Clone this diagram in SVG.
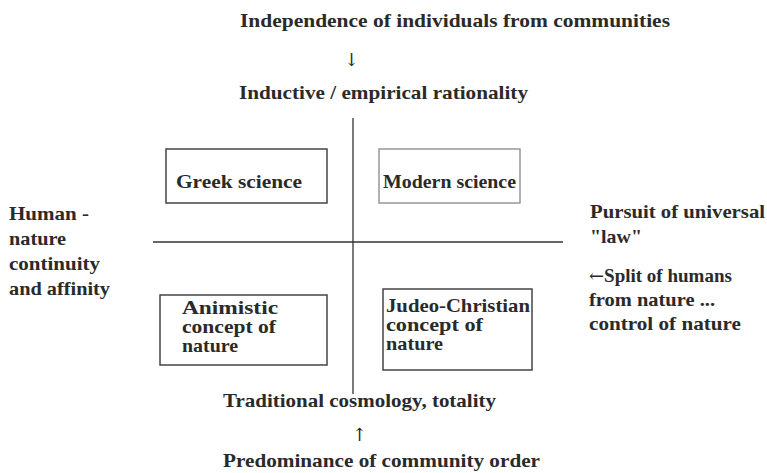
<svg xmlns="http://www.w3.org/2000/svg" width="767" height="473" viewBox="0 0 767 473">
<style>
text{font-family:"Liberation Serif","DejaVu Serif",serif;font-weight:bold;font-size:19px;fill:#2a2a2a}
.arr{font-family:"DejaVu Serif",serif;font-weight:normal;font-size:18px}
.box{fill:#fff;stroke:#444;stroke-width:1.5}
.lbox{fill:#fff;stroke:#888;stroke-width:1.3}
.axis{stroke:#333;stroke-width:1.3;fill:none}
</style>
<rect width="767" height="473" fill="#fff"/>
<g id="connectors">
<line class="axis" x1="353" y1="118" x2="353" y2="394"/>
<line class="axis" x1="153" y1="242" x2="563" y2="242"/>
</g>
<g id="top-label">
<text x="240" y="27" textLength="430" lengthAdjust="spacingAndGlyphs">Independence of individuals from communities</text>
<text class="arr" x="344" y="66">↓</text>
<text x="239" y="99" textLength="289" lengthAdjust="spacingAndGlyphs">Inductive / empirical rationality</text>
</g>
<g id="greek">
<rect class="box" x="166" y="149" width="161" height="54"/>
<text x="176" y="188" textLength="126" lengthAdjust="spacingAndGlyphs">Greek science</text>
</g>
<g id="modern">
<rect class="lbox" x="379" y="149" width="141" height="54"/>
<text x="383" y="188" textLength="133" lengthAdjust="spacingAndGlyphs">Modern science</text>
</g>
<g id="animistic">
<rect class="box" x="160" y="295" width="167" height="70"/>
<text x="182" y="314" textLength="96" lengthAdjust="spacingAndGlyphs">Animistic</text>
<text x="182" y="333" textLength="94" lengthAdjust="spacingAndGlyphs">concept of</text>
<text x="182" y="352" textLength="56" lengthAdjust="spacingAndGlyphs">nature</text>
</g>
<g id="judeo">
<rect class="box" x="383" y="289" width="149" height="81"/>
<text x="386" y="312" textLength="144" lengthAdjust="spacingAndGlyphs">Judeo-Christian</text>
<text x="386" y="331" textLength="97" lengthAdjust="spacingAndGlyphs">concept of</text>
<text x="386" y="350" textLength="57" lengthAdjust="spacingAndGlyphs">nature</text>
</g>
<g id="left-label">
<text x="9" y="220" textLength="80" lengthAdjust="spacingAndGlyphs">Human -</text>
<text x="9" y="245" textLength="57" lengthAdjust="spacingAndGlyphs">nature</text>
<text x="9" y="270" textLength="91" lengthAdjust="spacingAndGlyphs">continuity</text>
<text x="9" y="295" textLength="101" lengthAdjust="spacingAndGlyphs">and affinity</text>
</g>
<g id="right-label">
<text x="590" y="218" textLength="175" lengthAdjust="spacingAndGlyphs">Pursuit of universal</text>
<text x="590" y="243" textLength="52" lengthAdjust="spacingAndGlyphs">"law"</text>
<text x="589" y="282"><tspan class="arr">←</tspan><tspan>Split of humans</tspan></text>
<text x="589" y="306" textLength="126" lengthAdjust="spacingAndGlyphs">from nature ...</text>
<text x="589" y="330" textLength="152" lengthAdjust="spacingAndGlyphs">control of nature</text>
</g>
<g id="bottom-label">
<text x="223" y="407" textLength="273" lengthAdjust="spacingAndGlyphs">Traditional cosmology, totality</text>
<text class="arr" x="352" y="441">↑</text>
<text x="223" y="467" textLength="317" lengthAdjust="spacingAndGlyphs">Predominance of community order</text>
</g>
</svg>
